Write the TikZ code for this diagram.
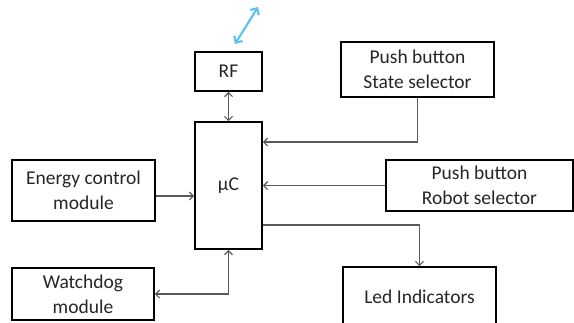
\documentclass[tikz,border=0pt]{standalone}
\usepackage{fontspec}
\setmainfont{Carlito}
\usetikzlibrary{arrows.meta,calc}
\definecolor{skyb}{RGB}{95,195,238}
\begin{document}
\begin{tikzpicture}[x=1pt,y=-1pt,
  blk/.style={draw=black,line width=1.6pt,fill=white,align=center,inner sep=0pt,font=\fontsize{19.5}{25}\selectfont,text=black!85},
  conn/.style={draw=black!65,line width=1.2pt,-{Straight Barb[length=4pt,width=8pt]}},
  dconn/.style={draw=black!65,line width=1.2pt,{Straight Barb[length=4pt,width=8pt]}-{Straight Barb[length=4pt,width=8pt]}}]
\useasboundingbox (0,0) rectangle (574,322);
\clip (0,0) rectangle (574,322);
\node[blk,minimum width=67pt,minimum height=39pt] (rf) at (228.5,71.5) {RF};
\node[blk,minimum width=67pt,minimum height=127pt] (uc) at (228.5,185.5) {µC};
\node[blk,minimum width=153pt,minimum height=55pt] (st) at (417.5,69.5) {Push button\\State selector};
\node[blk,minimum width=187pt,minimum height=51pt] (rb) at (479.5,185.5) {Push button\\Robot selector};
\node[blk,minimum width=153pt,minimum height=60pt] (led) at (419.5,297) {Led Indicators};
\node[blk,minimum width=143pt,minimum height=61pt] (en) at (83.5,190.5) {Energy control\\module};
\node[blk,minimum width=142pt,minimum height=52pt] (wd) at (83,294) {Watchdog\\module};
\coordinate (b1) at (235,44);
\coordinate (b2) at (258,7);
\draw[draw=skyb,line width=2.2pt,{Straight Barb[length=5pt,width=10pt]}-{Straight Barb[length=5pt,width=10pt]}] (b1) -- (b2);
\draw[dconn] (rf.south) -- (uc.north);
\draw[conn] (st.south) |- (uc.east |- 0,142);
\draw[conn] (rb.west) -- (uc.east |- rb.west);
\draw[conn] (uc.east |- 0,225) -| (led.north);
\draw[conn] (en.east |- 0,196) -- (uc.west |- 0,196);
\draw[dconn] (uc.south) |- (wd.east);
\end{tikzpicture}
\end{document}
